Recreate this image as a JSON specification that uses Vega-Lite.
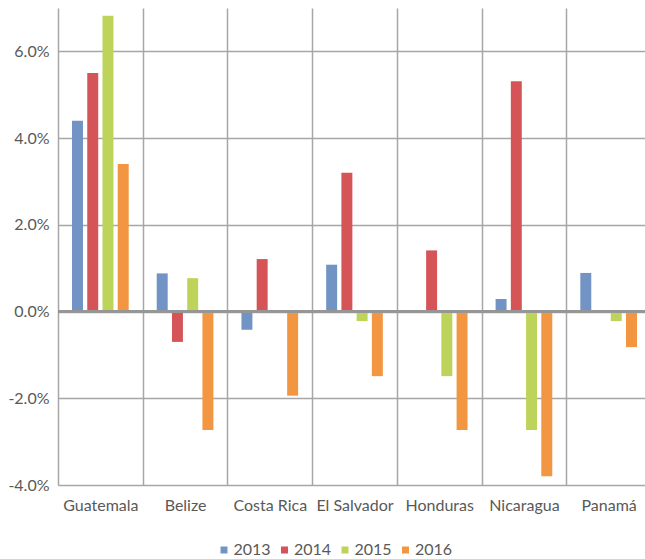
{
  "$schema": "https://vega.github.io/schema/vega-lite/v6.json",
  "autosize": {"type": "none"},
  "padding": {"left": 58, "top": 8, "right": 0, "bottom": 74},
  "width": 587,
  "height": 477,
  "background": "white",
  "config": {
    "view": {"stroke": null},
    "font": "Lato",
    "axis": {"labelFont": "Lato", "labelFontSize": 16, "labelColor": "#595959", "gridColor": "#a6a6a6", "gridWidth": 1.5, "gridOpacity": 1},
    "legend": {"labelFont": "Lato", "labelFontSize": 16, "labelColor": "#595959"}
  },
  "data": {
    "values": [
      {"country": "Guatemala", "year": "2013", "value": 4.4},
      {"country": "Guatemala", "year": "2014", "value": 5.5},
      {"country": "Guatemala", "year": "2015", "value": 6.82},
      {"country": "Guatemala", "year": "2016", "value": 3.4},
      {"country": "Belize", "year": "2013", "value": 0.88},
      {"country": "Belize", "year": "2014", "value": -0.7},
      {"country": "Belize", "year": "2015", "value": 0.77},
      {"country": "Belize", "year": "2016", "value": -2.73},
      {"country": "Costa Rica", "year": "2013", "value": -0.42},
      {"country": "Costa Rica", "year": "2014", "value": 1.21},
      {"country": "Costa Rica", "year": "2016", "value": -1.94},
      {"country": "El Salvador", "year": "2013", "value": 1.08},
      {"country": "El Salvador", "year": "2014", "value": 3.2},
      {"country": "El Salvador", "year": "2015", "value": -0.22},
      {"country": "El Salvador", "year": "2016", "value": -1.49},
      {"country": "Honduras", "year": "2014", "value": 1.41},
      {"country": "Honduras", "year": "2015", "value": -1.49},
      {"country": "Honduras", "year": "2016", "value": -2.73},
      {"country": "Nicaragua", "year": "2013", "value": 0.29},
      {"country": "Nicaragua", "year": "2014", "value": 5.31},
      {"country": "Nicaragua", "year": "2015", "value": -2.73},
      {"country": "Nicaragua", "year": "2016", "value": -3.8},
      {"country": "Panamá", "year": "2013", "value": 0.89},
      {"country": "Panamá", "year": "2015", "value": -0.22},
      {"country": "Panamá", "year": "2016", "value": -0.82}
    ]
  },
  "layer": [
    {
      "mark": {"type": "bar"},
      "encoding": {
        "x": {
          "field": "country", "type": "nominal", "sort": null,
          "scale": {"domain": ["Guatemala", "Belize", "Costa Rica", "El Salvador", "Honduras", "Nicaragua", "Panamá"], "range": [0, 593], "paddingInner": 0, "paddingOuter": 0},
          "axis": {"title": null, "labelAngle": 0, "ticks": false, "domain": false, "grid": true, "tickBand": "extent", "labelPadding": 12}
        },
        "xOffset": {
          "field": "year", "type": "nominal",
          "scale": {"domain": ["2013", "2014", "2015", "2016"], "paddingInner": 0.28, "paddingOuter": 0.92}
        },
        "y": {
          "field": "value", "type": "quantitative",
          "scale": {"domain": [-4, 7], "nice": false, "zero": false},
          "axis": {"title": null, "values": [-4, -2, 0, 2, 4, 6], "labelExpr": "replace(format(datum.value, '.1f'), '\u2212', '-') + '%'", "domain": false, "ticks": false, "labelPadding": 9}
        },
        "color": {
          "field": "year", "type": "nominal",
          "scale": {"domain": ["2013", "2014", "2015", "2016"], "range": ["#7294c4", "#d55458", "#bdd35a", "#f39641"]},
          "legend": {"title": null, "orient": "none", "direction": "horizontal", "legendX": 158, "legendY": 534, "symbolType": "square", "symbolSize": 49, "labelOffset": 1.5, "columnPadding": 5.5, "padding": 0, "symbolStrokeWidth": 0}
        }
      }
    },
    {
      "mark": {"type": "rule", "color": "#969696", "strokeWidth": 2.5},
      "encoding": {"y": {"datum": 0}}
    }
  ]
}
